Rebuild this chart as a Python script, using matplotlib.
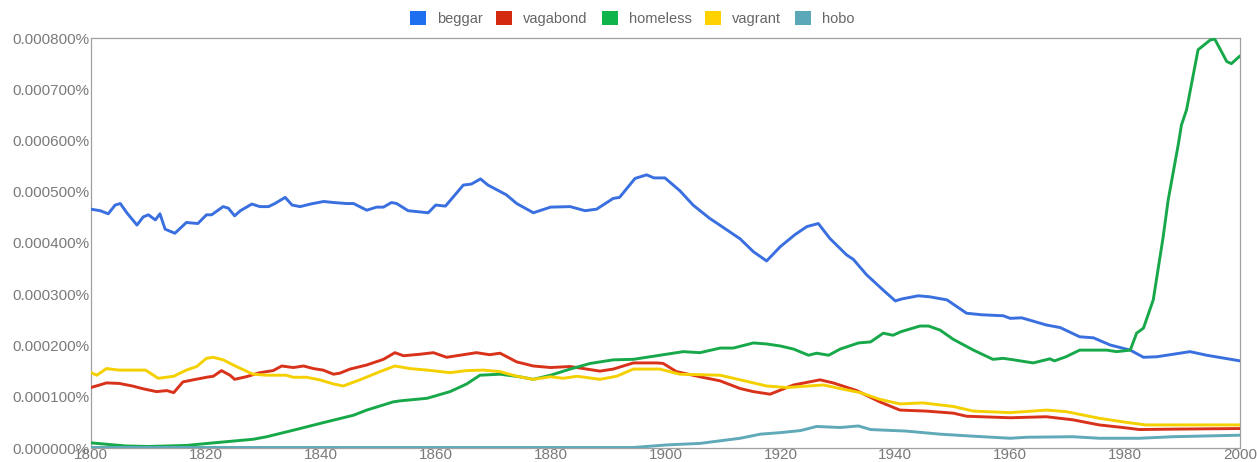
import matplotlib
matplotlib.use("Agg")
import matplotlib.pyplot as plt
from matplotlib.patches import Patch
from matplotlib.ticker import MultipleLocator, FuncFormatter

plt.rcParams['font.family'] = ['Liberation Sans', 'DejaVu Sans']

UNIT = 1e-4  # values below are in units of 0.0001 %

beggar_years = [1800, 1801.6, 1803, 1804.2, 1805.1, 1806.3, 1808, 1809.1, 1810, 1811.2, 1812, 1812.9, 1814.6,
                1816.6, 1818.6, 1820.1, 1821, 1823, 1823.9, 1825, 1826, 1828, 1829.4, 1830.9, 1832, 1833.8,
                1835, 1836.4, 1838.2, 1840.5, 1842.2, 1844.5, 1845.7, 1848, 1849.7, 1850.9, 1852.3, 1853.2,
                1855.2, 1858.7, 1860, 1861.7, 1864.8, 1866.2, 1867.8, 1869.1, 1872.3, 1874.1, 1877, 1880,
                1883.4, 1886, 1888, 1890.9, 1892, 1894.7, 1896.7, 1898, 1899.9, 1902.5, 1904.8, 1907.7,
                1909.7, 1913, 1915.3, 1917.6, 1920, 1922.5, 1924.6, 1926.6, 1928.6, 1931.5, 1932.7, 1935,
                1937.9, 1940, 1941.2, 1944, 1946, 1949, 1952.4, 1955, 1958.8, 1960, 1962, 1966.3, 1968.7,
                1972.1, 1974.5, 1977.4, 1980.9, 1983.2, 1985.5, 1991.3, 1994.2, 2000]
beggar = [4.66, 4.63, 4.57, 4.74, 4.77, 4.58, 4.35, 4.51, 4.55, 4.45, 4.57, 4.27, 4.19,
          4.40, 4.38, 4.55, 4.55, 4.71, 4.68, 4.53, 4.63, 4.76, 4.71, 4.71, 4.77, 4.89,
          4.74, 4.71, 4.76, 4.81, 4.79, 4.77, 4.77, 4.64, 4.70, 4.70, 4.79, 4.77,
          4.63, 4.59, 4.74, 4.72, 5.13, 5.15, 5.25, 5.13, 4.94, 4.77, 4.59, 4.70,
          4.71, 4.63, 4.66, 4.87, 4.89, 5.26, 5.33, 5.27, 5.27, 5.02, 4.74, 4.48,
          4.33, 4.08, 3.83, 3.65, 3.93, 4.16, 4.32, 4.38, 4.09, 3.77, 3.68, 3.38,
          3.08, 2.87, 2.91, 2.97, 2.95, 2.89, 2.63, 2.60, 2.58, 2.53, 2.54, 2.40, 2.35,
          2.17, 2.15, 2.01, 1.91, 1.77, 1.78, 1.88, 1.81, 1.70]

vagabond_years = [1800, 1802.7, 1804.9, 1807.2, 1808.9, 1811.4, 1813.2, 1814.4, 1816, 1817.8, 1820.1, 1821.3,
                  1822.7, 1824.2, 1825, 1827, 1829.4, 1831.7, 1833.2, 1835.2, 1837, 1838.7, 1840.4, 1842.2,
                  1843.3, 1845.1, 1848, 1850.9, 1852.9, 1854.4, 1857.3, 1859.6, 1861.9, 1867.1, 1869.4,
                  1871.2, 1874.1, 1877, 1880, 1883.4, 1888.6, 1890.9, 1894.4, 1898.5, 1899.6, 1901.9, 1906,
                  1909.5, 1913, 1915.3, 1918.2, 1920, 1922.3, 1926.9, 1929.2, 1933.3, 1937.3, 1940.8,
                  1945.4, 1950.1, 1952.4, 1960, 1966.3, 1970.9, 1975.5, 1979.6, 1982.5, 1990, 2000]
vagabond = [1.18, 1.27, 1.26, 1.21, 1.16, 1.10, 1.12, 1.08, 1.29, 1.33, 1.38, 1.40,
            1.51, 1.42, 1.34, 1.39, 1.47, 1.51, 1.60, 1.57, 1.60, 1.55, 1.52, 1.44,
            1.46, 1.54, 1.62, 1.73, 1.86, 1.80, 1.83, 1.86, 1.77, 1.86, 1.82,
            1.85, 1.68, 1.60, 1.57, 1.59, 1.50, 1.54, 1.66, 1.66, 1.65, 1.49, 1.39,
            1.31, 1.16, 1.10, 1.05, 1.13, 1.23, 1.33, 1.27, 1.12, 0.90, 0.74,
            0.72, 0.68, 0.62, 0.59, 0.61, 0.55, 0.45, 0.40, 0.36, 0.37, 0.38]

homeless_years = [1800, 1806, 1810, 1816.6, 1821.3, 1828.2, 1830.6, 1836.4, 1839.9, 1845.7, 1848, 1852.6,
                  1853.8, 1858.5, 1862.5, 1865.4, 1867.7, 1871.2, 1874.6, 1877, 1880, 1883.4, 1886.9,
                  1890.9, 1894.4, 1897.3, 1900.2, 1903.1, 1906, 1909.5, 1911.8, 1915.3, 1917.6, 1920,
                  1922.3, 1924.9, 1926.3, 1928.4, 1930.4, 1933.6, 1935.7, 1937.9, 1939.6, 1941, 1944.3,
                  1945.8, 1947.8, 1950.1, 1953.6, 1957, 1958.8, 1960.6, 1964, 1966.9, 1967.7, 1969.7,
                  1972.1, 1976.8, 1978.5, 1980.9, 1982, 1983.2, 1984.9, 1986.6, 1987.5, 1989.3, 1989.8,
                  1990.7, 1992.7, 1994.8, 1995.6, 1997.7, 1998.5, 2000]
homeless = [0.10, 0.04, 0.03, 0.05, 0.10, 0.17, 0.22, 0.38, 0.48, 0.64, 0.74, 0.90,
            0.92, 0.97, 1.10, 1.25, 1.42, 1.44, 1.39, 1.34, 1.42, 1.54, 1.65,
            1.72, 1.73, 1.78, 1.83, 1.88, 1.86, 1.95, 1.95, 2.05, 2.03, 1.99,
            1.93, 1.81, 1.85, 1.81, 1.93, 2.05, 2.07, 2.24, 2.20, 2.27, 2.38,
            2.38, 2.30, 2.12, 1.91, 1.73, 1.75, 1.72, 1.66, 1.74, 1.70, 1.78,
            1.91, 1.91, 1.88, 1.91, 2.24, 2.34, 2.89, 4.10, 4.84, 5.95, 6.30,
            6.60, 7.77, 7.96, 7.98, 7.54, 7.50, 7.65]

vagrant_years = [1800, 1801, 1802.7, 1804.9, 1807.2, 1809.5, 1811.7, 1814.4, 1816.6, 1818.4, 1820.1, 1821.3,
                 1823, 1825.3, 1828.2, 1830.6, 1834, 1835.2, 1837.5, 1839.8, 1842.2, 1843.9, 1846.8, 1850.3,
                 1852.9, 1855.5, 1858.5, 1862.5, 1865.4, 1868.3, 1871.2, 1874.1, 1877, 1880, 1882.2, 1884.6,
                 1888.6, 1891.5, 1894.4, 1899, 1902.5, 1909.5, 1913, 1917.6, 1921.1, 1927.5, 1930.4, 1933.9,
                 1937.3, 1940.8, 1944.8, 1950.1, 1953.6, 1960, 1966.3, 1969.7, 1975.5, 1979.6, 1983.6,
                 1990, 2000]
vagrant = [1.47, 1.42, 1.55, 1.52, 1.52, 1.52, 1.36, 1.40, 1.52, 1.59, 1.75, 1.77,
           1.72, 1.59, 1.44, 1.42, 1.42, 1.38, 1.38, 1.33, 1.25, 1.21, 1.33, 1.49,
           1.60, 1.55, 1.52, 1.47, 1.51, 1.52, 1.49, 1.40, 1.34, 1.39, 1.36, 1.40,
           1.34, 1.40, 1.54, 1.54, 1.44, 1.42, 1.33, 1.21, 1.18, 1.23, 1.16, 1.08,
           0.95, 0.86, 0.88, 0.81, 0.72, 0.69, 0.74, 0.71, 0.58, 0.51, 0.45,
           0.45, 0.45]

hobo_years = [1800, 1850, 1890, 1894.4, 1900.2, 1906, 1909.5, 1913, 1916.5, 1920, 1923.5, 1926.3, 1930.4,
              1933.6, 1935.7, 1941.9, 1947.8, 1953.6, 1960, 1962.9, 1970.9, 1975.5, 1982.5, 1988.3, 2000]
hobo = [0.01, 0.01, 0.01, 0.01, 0.06, 0.09, 0.14, 0.19, 0.27, 0.30, 0.34, 0.42, 0.40,
        0.43, 0.36, 0.33, 0.27, 0.23, 0.19, 0.21, 0.22, 0.19, 0.19, 0.22, 0.25]

labels = ['beggar', 'vagabond', 'homeless', 'vagrant', 'hobo']
line_colors = ['#3a6fe0', '#d9321a', '#17a84a', '#f5d000', '#5fa9b8']
legend_colors = ['#1e6ff0', '#d42a10', '#0fb54a', '#ffd200', '#5aa8b8']

series = [(beggar_years, beggar), (vagabond_years, vagabond), (homeless_years, homeless),
          (vagrant_years, vagrant), (hobo_years, hobo)]

fig = plt.figure(figsize=(12.57, 4.62), dpi=100)
ax = fig.add_axes([91 / 1257, 14 / 462, 1149 / 1257, 410 / 462])

for (yrs, vals), c in zip(series, line_colors):
    ax.plot(yrs, [v * UNIT for v in vals], color=c, lw=2.1, solid_joinstyle='round',
            solid_capstyle='round', zorder=3)

ax.set_xlim(1800, 2000)
ax.set_ylim(0, 8 * UNIT)
ax.xaxis.set_major_locator(MultipleLocator(20))
ax.yaxis.set_major_locator(MultipleLocator(1 * UNIT))
ax.xaxis.set_minor_locator(MultipleLocator(40))
ax.yaxis.set_minor_locator(MultipleLocator(2 * UNIT))
ax.yaxis.set_major_formatter(FuncFormatter(lambda v, p: f"{v:.6f}%"))
ax.xaxis.set_major_formatter(FuncFormatter(lambda v, p: f"{int(round(v))}"))
ax.grid(which='minor', color='#a0a0a0', lw=0.9)
ax.grid(which='major', visible=False)
ax.tick_params(which='both', length=0)
ax.tick_params(axis='y', labelsize=11, labelcolor='#7a7a7a', pad=1)
ax.tick_params(axis='x', labelsize=11, labelcolor='#7a7a7a', pad=0)
for s in ax.spines.values():
    s.set_color('#a0a0a0')
    s.set_linewidth(0.9)

handles = [Patch(facecolor=c, edgecolor='none') for c in legend_colors]
leg = fig.legend(handles, labels, loc='upper center', bbox_to_anchor=(0.503, 1.005), ncol=5,
                 frameon=False, handlelength=1.1, handleheight=1.1, handletextpad=0.75,
                 columnspacing=0.95, fontsize=10.5)
for t in leg.get_texts():
    t.set_color('#666666')

fig.savefig('out.png', dpi=100)
